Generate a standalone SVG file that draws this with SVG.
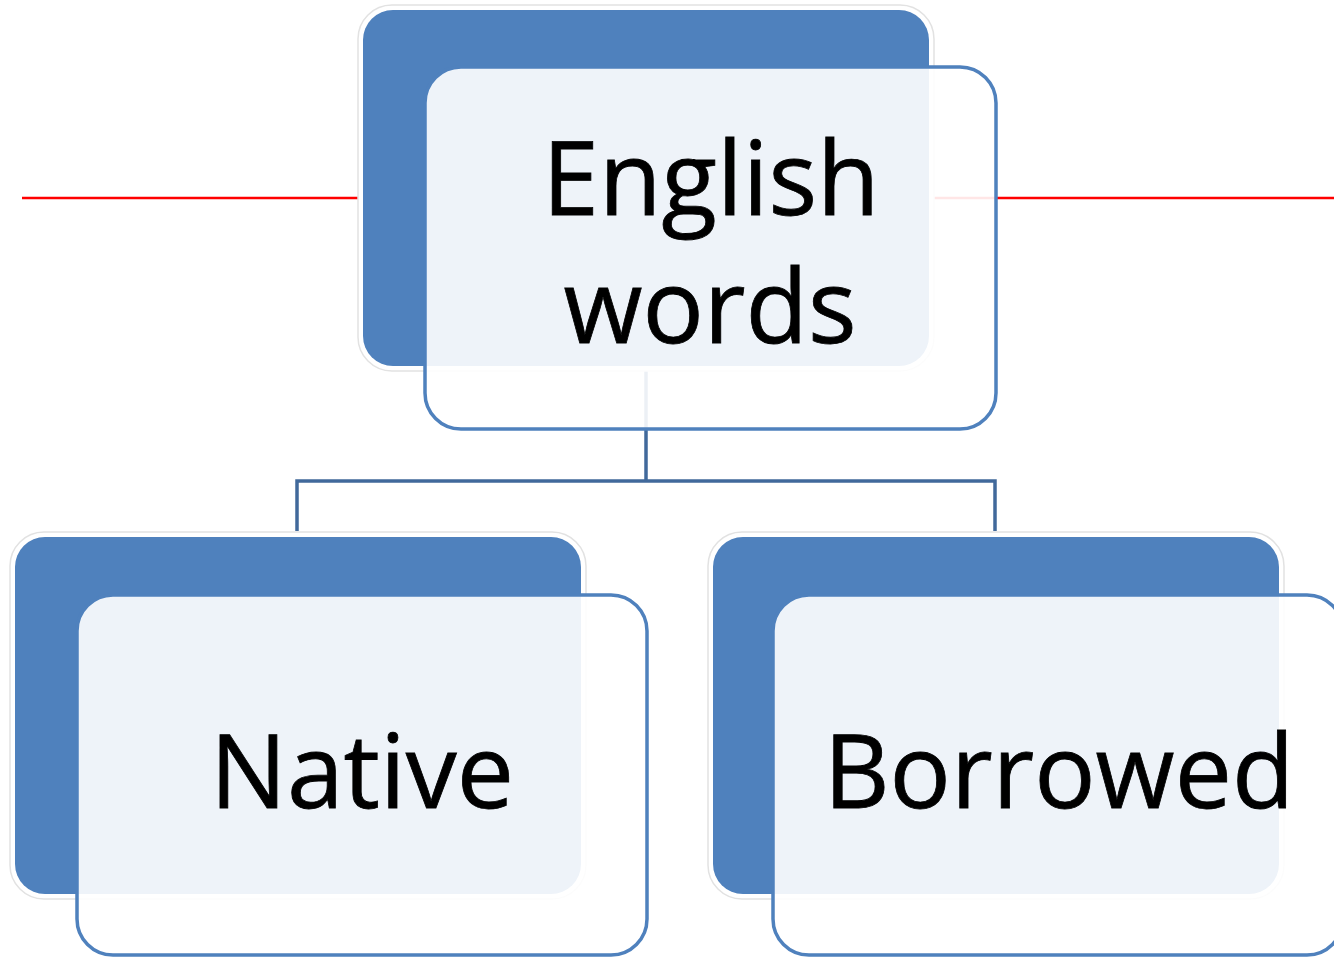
<svg xmlns="http://www.w3.org/2000/svg" width="1334" height="958" viewBox="0 0 1334 958">
<style>
.halo{fill:#ffffff;stroke:#e2e2e2;stroke-width:1.5}
.back{fill:#4f81bd}
.front{fill:#ffffff;fill-opacity:0.9;stroke:#4f81bd;stroke-width:3.5}
.lbl{font-family:"Open Sans","Liberation Sans",sans-serif;font-size:102px;fill:#000000;stroke:#000000;stroke-width:0.8;text-anchor:middle}
.red{stroke:#ff0000;stroke-width:2.5;fill:none}
.conn{stroke:#41699b;stroke-width:3.5;fill:none}
</style>
<rect width="1334" height="958" fill="#ffffff"/>
<g id="background-lines">
<line class="red" x1="22" y1="198" x2="360" y2="198"/>
<line class="red" x1="932" y1="198" x2="1334" y2="198"/>
</g>
<g id="connectors">
<polyline class="conn" points="646,370 646,481"/>
<polyline class="conn" points="297,531 297,481 995,481 995,531"/>
</g>
<g id="node-english">
<rect class="halo" x="358" y="5" width="576" height="366" rx="34"/>
<rect class="back" x="363" y="10" width="566" height="356" rx="30"/>
<rect class="front" x="425" y="67" width="571" height="362" rx="36"/>
<text class="lbl" x="711" y="215">English</text>
<text class="lbl" x="710" y="343">words</text>
</g>
<g id="node-native">
<rect class="halo" x="10" y="532" width="576" height="367" rx="34"/>
<rect class="back" x="15" y="537" width="566" height="357" rx="30"/>
<rect class="front" x="77" y="595" width="570" height="360" rx="36"/>
<text class="lbl" x="362" y="808">Native</text>
</g>
<g id="node-borrowed">
<rect class="halo" x="708" y="532" width="576" height="367" rx="34"/>
<rect class="back" x="713" y="537" width="566" height="357" rx="30"/>
<rect class="front" x="773" y="595" width="570" height="360" rx="36"/>
<text class="lbl" x="1059" y="808">Borrowed</text>
</g>
</svg>
